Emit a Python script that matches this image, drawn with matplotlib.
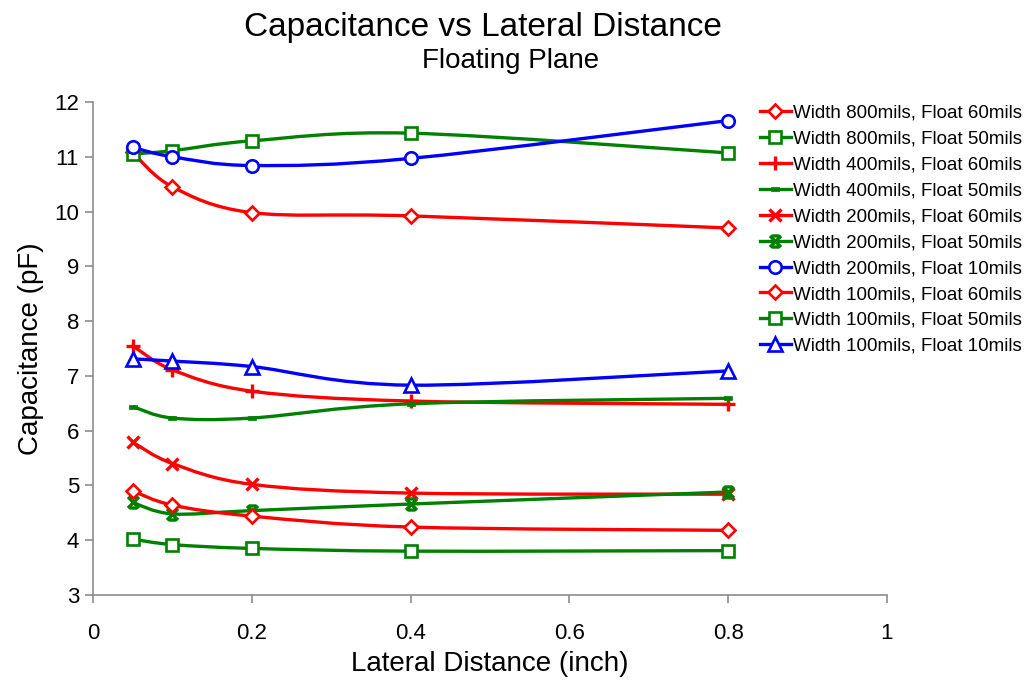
import matplotlib
matplotlib.use("Agg")
import matplotlib.pyplot as plt
import numpy as np
from matplotlib.path import Path
from matplotlib.patches import PathPatch
from matplotlib.lines import Line2D

plt.rcParams["font.family"] = ["Liberation Sans", "DejaVu Sans"]

# lateral distance (inch)
distance = [0.05, 0.1, 0.2, 0.4, 0.8]

# capacitance (pF), one list per series
w800_f60 = [11.08, 10.45, 9.98, 9.92, 9.70]
w800_f50 = [11.05, 11.11, 11.29, 11.43, 11.07]
w400_f60 = [7.55, 7.11, 6.72, 6.54, 6.48]
w400_f50 = [6.44, 6.23, 6.23, 6.49, 6.59]
w200_f60 = [5.79, 5.40, 5.02, 4.86, 4.84]
w200_f50 = [4.69, 4.48, 4.54, 4.66, 4.88]
w200_f10 = [11.17, 11.00, 10.84, 10.97, 11.66]
w100_f60 = [4.90, 4.64, 4.44, 4.24, 4.18]
w100_f50 = [4.02, 3.92, 3.85, 3.80, 3.81]
w100_f10 = [7.31, 7.27, 7.17, 6.83, 7.09]

labels = [
    "Width 800mils, Float 60mils",
    "Width 800mils, Float 50mils",
    "Width 400mils, Float 60mils",
    "Width 400mils, Float 50mils",
    "Width 200mils, Float 60mils",
    "Width 200mils, Float 50mils",
    "Width 200mils, Float 10mils",
    "Width 100mils, Float 60mils",
    "Width 100mils, Float 50mils",
    "Width 100mils, Float 10mils",
]
series = [w800_f60, w800_f50, w400_f60, w400_f50, w200_f60,
          w200_f50, w200_f10, w100_f60, w100_f50, w100_f10]

RED, GREEN, BLUE = "#ff0000", "#008000", "#0000ff"

star = Path([(-1, -1), (1, 1), (-1, 1), (1, -1), (-0.7, 1), (0.7, 1), (-0.7, -1), (0.7, -1)],
            [Path.MOVETO, Path.LINETO, Path.MOVETO, Path.LINETO,
             Path.MOVETO, Path.LINETO, Path.MOVETO, Path.LINETO])
dash = Path([(-1, -0.45), (1, -0.45), (1, 0.45), (-1, 0.45), (-1, -0.45)], closed=True)

styles = [
    dict(color=RED, marker="D", ms=7.5),
    dict(color=GREEN, marker="s", ms=8.5),
    dict(color=RED, marker="P", ms=0, plus=True),
    dict(color=GREEN, marker=dash, ms=6, filled=True),
    dict(color=RED, marker="x", ms=8),
    dict(color=GREEN, marker=star, ms=8),
    dict(color=BLUE, marker="o", ms=9),
    dict(color=RED, marker="D", ms=7.5),
    dict(color=GREEN, marker="s", ms=8.5),
    dict(color=BLUE, marker="^", ms=9.5),
]


def smooth_path(xs, ys):
    # Excel-style smoothed line: cubic bezier segments (catmull-rom tangents)
    pts = np.column_stack([xs, ys])
    ext = np.vstack([pts[0], pts, pts[-1]])
    verts = [pts[0]]
    codes = [Path.MOVETO]
    for i in range(len(pts) - 1):
        p0, p1, p2, p3 = ext[i], ext[i + 1], ext[i + 2], ext[i + 3]
        verts += [p1 + (p2 - p0) / 6.0, p2 - (p3 - p1) / 6.0, p2]
        codes += [Path.CURVE4] * 3
    return Path(verts, codes)


fig = plt.figure(figsize=(10.24, 6.82), dpi=100)
ax = fig.add_axes([0.0908, 0.1276, 0.7754, 0.7229])

handles = []
for vals, st, lab in zip(series, styles, labels):
    c = st["color"]
    ax.add_patch(PathPatch(smooth_path(distance, vals), facecolor="none",
                           edgecolor=c, lw=2.4, zorder=2))
    if st.get("plus"):
        mk = dict(marker="+", ms=10, mew=2.4, mec=c)
    elif st.get("filled"):
        mk = dict(marker=st["marker"], ms=st["ms"], mew=0.5, mec=c, mfc=c)
    elif st["marker"] in ("x",) or st["marker"] is star:
        mk = dict(marker=st["marker"], ms=st["ms"], mew=2.4, mec=c)
    else:
        mk = dict(marker=st["marker"], ms=st["ms"], mew=1.9, mec=c, mfc="white")
    ax.plot(distance, vals, linestyle="none", zorder=3, **mk)
    handles.append(Line2D([], [], color=c, lw=2.4, label=lab, **mk))

ax.set_xlim(0, 1)
ax.set_ylim(3, 12)
ax.set_xticks([0, 0.2, 0.4, 0.6, 0.8, 1])
ax.set_xticklabels(["0", "0.2", "0.4", "0.6", "0.8", "1"])
ax.set_yticks(range(3, 13))
for side in ("top", "right"):
    ax.spines[side].set_visible(False)
for side in ("left", "bottom"):
    ax.spines[side].set_color("#8c8c8c")
    ax.spines[side].set_linewidth(1.2)
ax.tick_params(axis="both", direction="out", length=6, width=1.2, color="#8c8c8c",
               labelsize=16)
ax.tick_params(axis="x", pad=14)
ax.tick_params(axis="y", pad=4)

ax.set_xlabel("Lateral Distance (inch)", fontsize=20, labelpad=5)
ax.set_ylabel("Capacitance (pF)", fontsize=20, labelpad=7)

fig.text(0.472, 0.96, "Capacitance vs Lateral Distance", ha="center", va="center", fontsize=24)
fig.text(0.499, 0.91, "Floating Plane", ha="center", va="center", fontsize=20)

fig.legend(handles=handles, loc="upper left", bbox_to_anchor=(0.742, 0.847),
           frameon=False, fontsize=13.5, handlelength=1.65, handletextpad=0.12,
           labelspacing=0.47, borderaxespad=0, borderpad=0)

fig.savefig("out.png", dpi=100)
